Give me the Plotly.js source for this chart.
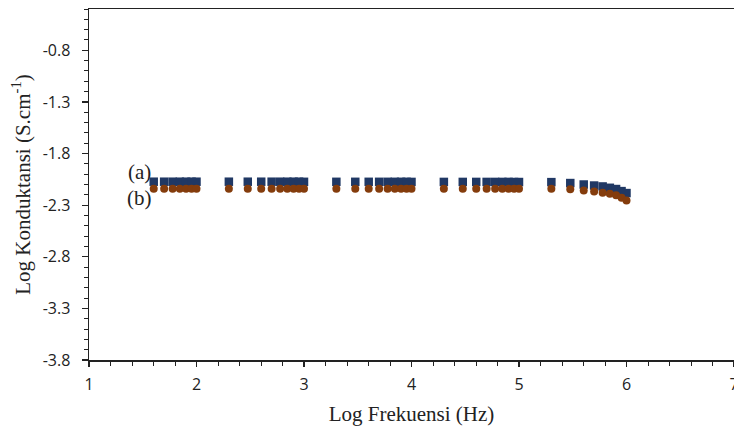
<!DOCTYPE html>
<html>
<head>
<meta charset="utf-8">
<script src="https://cdn.plot.ly/plotly-3.0.1.min.js"></script>
<style>html,body{margin:0;padding:0;background:#fff;}#chart{width:734px;height:430px;}</style>
</head>
<body>
<div id="chart"></div>
<script>
// Log frequency (Hz) values
var logFrekuensi = [1.602, 1.699, 1.778, 1.845, 1.903, 1.954, 2.000,
  2.301, 2.477, 2.602, 2.699, 2.778, 2.845, 2.903, 2.954, 3.000,
  3.301, 3.477, 3.602, 3.699, 3.778, 3.845, 3.903, 3.954, 4.000,
  4.301, 4.477, 4.602, 4.699, 4.778, 4.845, 4.903, 4.954, 5.000,
  5.301, 5.477, 5.602, 5.699, 5.778, 5.845, 5.903, 5.954, 6.000];
// Series (a) log conductance
var seriesA = [-2.073, -2.073, -2.073, -2.073, -2.073, -2.073, -2.073,
  -2.073, -2.073, -2.073, -2.073, -2.073, -2.073, -2.073, -2.073, -2.074,
  -2.074, -2.074, -2.074, -2.074, -2.074, -2.074, -2.074, -2.074, -2.075,
  -2.075, -2.075, -2.075, -2.075, -2.075, -2.075, -2.075, -2.076, -2.076,
  -2.077, -2.086, -2.100, -2.110, -2.119, -2.132, -2.144, -2.164, -2.183];
// Series (b) log conductance
var seriesB = [-2.140, -2.140, -2.140, -2.140, -2.140, -2.140, -2.140,
  -2.140, -2.140, -2.140, -2.140, -2.140, -2.140, -2.140, -2.140, -2.140,
  -2.140, -2.140, -2.140, -2.140, -2.140, -2.140, -2.140, -2.140, -2.140,
  -2.140, -2.140, -2.140, -2.140, -2.140, -2.140, -2.140, -2.140, -2.141,
  -2.141, -2.147, -2.157, -2.167, -2.180, -2.190, -2.205, -2.228, -2.254];
var seriesLabels = ["(a)", "(b)"];
var yTickVals = [-3.8, -3.3, -2.8, -2.3, -1.8, -1.3, -0.8];
var yTickText = ["-3.8", "-3.3", "-2.8", "-2.3", "-1.8", "-1.3", "-0.8"];
var xTickVals = [1, 2, 3, 4, 5, 6, 7];
var xTickText = ["1", "2", "3", "4", "5", "6", "7"];

var traces = [
  {x: logFrekuensi, y: seriesA, name: seriesLabels[0], type: "scatter", mode: "markers",
   marker: {symbol: "square", size: 8.5, color: "#203864"}},
  {x: logFrekuensi, y: seriesB, name: seriesLabels[1], type: "scatter", mode: "markers",
   marker: {symbol: "circle", size: 8, color: "#843C0C"}}
];

var tickFont = {family: "Open Sans, Liberation Sans, sans-serif", size: 16, color: "#222"};
var titleFont = {family: "Liberation Serif, Times New Roman, serif", size: 21, color: "#222"};

var layout = {
  width: 734, height: 430,
  margin: {l: 89, r: 0, t: 9, b: 70},
  paper_bgcolor: "#fff", plot_bgcolor: "#fff",
  showlegend: false,
  xaxis: {
    range: [1, 7], tickvals: xTickVals, ticktext: xTickText,
    showgrid: false, zeroline: false,
    showline: true, linecolor: "#222", linewidth: 1.5, mirror: true,
    ticks: "outside", ticklen: 5, tickcolor: "#222", tickwidth: 1.2,
    minor: {dtick: 0.2, tick0: 1, ticks: "outside", ticklen: 4, tickcolor: "#222", tickwidth: 1, showgrid: false},
    tickfont: tickFont, ticklabelstandoff: 4, ticklabeloverflow: "allow",
    title: {text: "Log Frekuensi (Hz)", font: titleFont, standoff: 12}
  },
  yaxis: {
    range: [-3.8, -0.4], tickvals: yTickVals, ticktext: yTickText,
    showgrid: false, zeroline: false,
    showline: true, linecolor: "#222", linewidth: 1.5, mirror: false,
    ticks: "outside", ticklen: 6, tickcolor: "#222", tickwidth: 1.2,
    minor: {dtick: 0.1, tick0: -3.8, ticks: "outside", ticklen: 4, tickcolor: "#222", tickwidth: 1, showgrid: false},
    tickfont: tickFont, ticklabelstandoff: 8,
    title: {text: "Log Konduktansi (S.cm<sup>-1</sup>)", font: titleFont, standoff: 6}
  },
  annotations: [
    {x: 1.47, y: -1.977, xref: "x", yref: "y", text: seriesLabels[0], showarrow: false,
     font: titleFont},
    {x: 1.47, y: -2.228, xref: "x", yref: "y", text: seriesLabels[1], showarrow: false,
     font: titleFont}
  ]
};

Plotly.newPlot("chart", traces, layout, {displayModeBar: false, staticPlot: true});
</script>
</body>
</html>
